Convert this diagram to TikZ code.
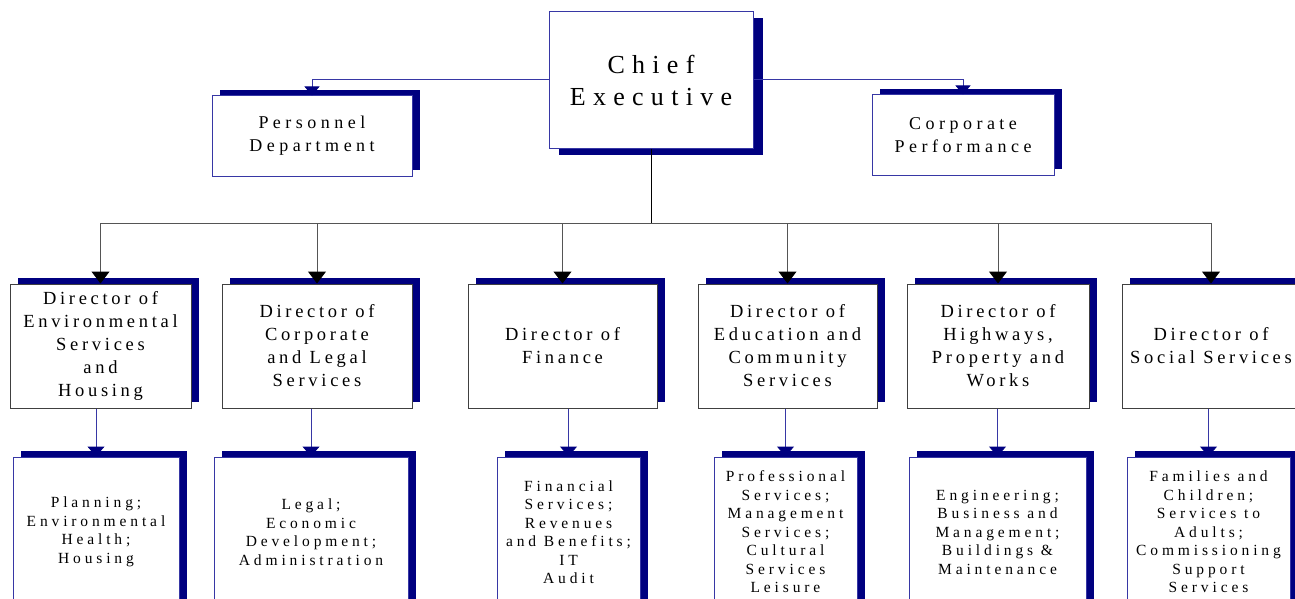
\documentclass[tikz,border=0pt]{standalone}
\usepackage{fontspec}
\setmainfont{Liberation Serif}
\newfontfamily\chartfont{Liberation Serif}[LetterSpace=25]
\usepackage{tikz}
\usetikzlibrary{arrows.meta, positioning, shadows}

\definecolor{shadownavy}{RGB}{0,0,128}
\definecolor{linkblue}{RGB}{55,55,165}
\definecolor{busgray}{RGB}{85,85,85}

\begin{document}
\begin{tikzpicture}[
        x=1pt, y=-1pt,
        every node/.style={inner sep=0pt, align=center, fill=white, line width=1pt},
        raised/.style={drop shadow={shadow xshift=7.5pt, shadow yshift=6pt, fill=shadownavy, opacity=1}},
        chiefbox/.style={draw=linkblue, font=\chartfont\addfontfeatures{LetterSpace=28}\fontsize{26}{32}\selectfont,
            drop shadow={shadow xshift=9.5pt, shadow yshift=-6.5pt, fill=shadownavy, opacity=1}},
        staffbox/.style={raised, draw=linkblue, minimum height=80pt, font=\chartfont\fontsize{18}{23}\selectfont},
        directorbox/.style={raised, draw=black!75, minimum height=124pt, font=\chartfont\addfontfeatures{LetterSpace=20}\fontsize{18.5}{23}\selectfont},
        servicebox/.style={raised, draw=linkblue, minimum height=150pt, font=\chartfont\fontsize{15.5}{18.5}\selectfont},
        staffline/.style={draw=linkblue, line width=1pt, -{Triangle[width=15pt, length=9pt, color=shadownavy]}},
        busline/.style={draw=busgray, line width=1pt, -{Triangle[width=18pt, length=12pt, color=black]}},
        subline/.style={draw=linkblue, line width=1pt, -{Triangle[width=17pt, length=10pt, color=shadownavy]}}
    ]
    \useasboundingbox (0,0) rectangle (1295,599);
    \clip (0,0) rectangle (1295,599);

    % Chief Executive and staff units
    \node[chiefbox, minimum width=204pt, minimum height=136pt] (ce) at (651,80) {Chief\\Executive};
    \node[staffbox, minimum width=200pt] (pd) at (312,136) {Personnel\\Department};
    \node[staffbox, minimum width=182pt] (cp) at (963,135) {Corporate\\Performance};

    \draw[staffline] (ce.west) -| (pd);
    \draw[staffline] (ce.east) -| (cp);

    % Directors
    \node[directorbox, minimum width=181pt] (dir1) at (100.5,346) {Director of\\Environmental\\Services\\and\\Housing};
    \node[directorbox, minimum width=190pt] (dir2) at (317,346) {Director of\\Corporate\\and Legal\\Services};
    \node[directorbox, minimum width=189pt] (dir3) at (562.5,346) {Director of\\Finance};
    \node[directorbox, minimum width=179pt] (dir4) at (787.5,346) {Director of\\Education and\\Community\\Services};
    \node[directorbox, minimum width=182pt] (dir5) at (998,346) {Director of\\Highways,\\Property and\\Works};
    \node[directorbox, minimum width=178pt] (dir6) at (1211,346) {Director of\\Social Services};

    % Services under each director
    \node[servicebox, minimum width=166pt] (srv1) at (96,532) {Planning;\\Environmental\\Health;\\Housing};
    \node[servicebox, minimum width=194pt] (srv2) at (311,532) {Legal;\\Economic\\Development;\\Administration};
    \node[servicebox, minimum width=143pt] (srv3) at (568.5,532) {Financial\\Services;\\Revenues\\and Benefits;\\IT\\Audit};
    \node[servicebox, minimum width=143pt] (srv4) at (785.5,532) {Professional\\Services;\\Management\\Services;\\Cultural\\Services\\Leisure};
    \node[servicebox, minimum width=177pt] (srv5) at (997.5,532) {Engineering;\\Business and\\Management;\\Buildings \&\\Maintenance};
    \node[servicebox, minimum width=163pt] (srv6) at (1208.5,532) {Families and\\Children;\\Services to\\Adults;\\Commissioning\\Support\\Services};

    % connectors
    \coordinate (bus) at (651,223);
    \draw[line width=1pt] (ce) -- (bus);
    \foreach \i in {1,...,6} {
        \draw[busline] (bus) -| (dir\i);
        \draw[subline] (srv\i |- dir\i.south) -- (srv\i);
    }

\end{tikzpicture}
\end{document}
